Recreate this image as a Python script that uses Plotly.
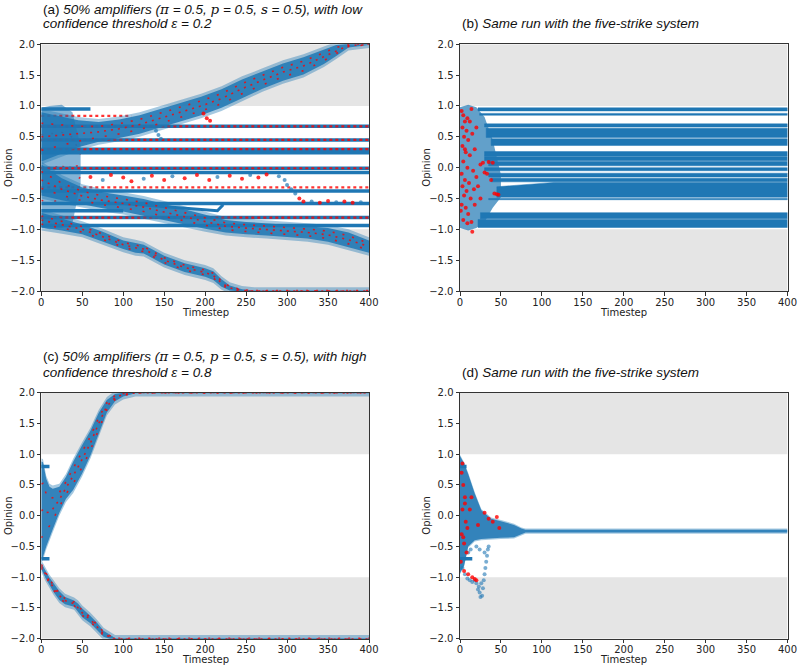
import numpy as np
import plotly.graph_objects as go

# ---------------- data ----------------
timestep_ticks = [0, 50, 100, 150, 200, 250, 300, 350, 400]
opinion_ticks = [-2.0, -1.5, -1.0, -0.5, 0.0, 0.5, 1.0, 1.5, 2.0]

# (a) drifting opinion clusters: timestep knots, cluster centre, half width
a_up_t = [0, 20, 45, 70, 95, 120, 145, 170, 195, 220, 245, 270, 295, 320, 345, 360, 375, 400]
a_up_c = [0.5, 0.52, 0.55, 0.58, 0.63, 0.7, 0.8, 0.9, 1.0, 1.12, 1.28, 1.42, 1.55, 1.65, 1.8, 1.9, 1.98, 2.0]
a_up_hw = [0.4, 0.32, 0.22, 0.16, 0.15, 0.15, 0.15, 0.15, 0.15, 0.15, 0.15, 0.14, 0.14, 0.14, 0.12, 0.09, 0.03, 0.01]

a_mid_t = [0, 25, 50, 75, 100, 125, 150, 175, 200, 225, 250, 275, 300, 325, 350, 375, 400]
a_mid_c = [-0.2, -0.35, -0.46, -0.53, -0.58, -0.64, -0.72, -0.8, -0.88, -0.95, -0.98, -1.0, -1.02, -1.05, -1.09, -1.17, -1.28]
a_mid_hw = [0.25, 0.18, 0.14, 0.13, 0.13, 0.13, 0.13, 0.12, 0.11, 0.1, 0.1, 0.1, 0.1, 0.1, 0.11, 0.12, 0.1]

a_low_t = [0, 25, 50, 75, 100, 115, 125, 150, 175, 200, 210, 220, 230, 245, 260, 400]
a_low_c = [-0.85, -0.92, -1.0, -1.12, -1.25, -1.3, -1.32, -1.5, -1.62, -1.7, -1.75, -1.87, -1.95, -1.99, -2.0, -2.0]
a_low_hw = [0.12, 0.1, 0.08, 0.08, 0.07, 0.08, 0.07, 0.07, 0.07, 0.07, 0.07, 0.06, 0.04, 0.02, 0.01, 0.01]

a_early_t = [0, 10, 25, 38, 48]
a_early_c = [0.0, 0.0, 0.02, 0.0, 0.05]
a_early_hw = [0.97, 1.0, 1.0, 0.9, 0.3]

# (a) agents frozen at a fixed opinion: level, first and last timestep, kind
a_line_level = [0.95, 0.84, 0.67, 0.45, 0.30, 0.24, -0.01, -0.08, -0.32, -0.38, -0.58, -0.70, -0.81, -0.94]
a_line_start = [0, 0, 0, 0, 0, 0, 0, 0, 0, 0, 0, 0, 0, 0]
a_line_end = [60, 110, 400, 400, 400, 400, 400, 400, 400, 400, 400, 100, 400, 400]
a_line_kind = ['blue', 'red', 'both', 'both', 'both', 'blue', 'both', 'blue', 'red', 'blue', 'blue', 'blue', 'both', 'blue']

a_thin_t = [100, 150, 200, 215, 222]
a_thin_v = [-0.58, -0.63, -0.68, -0.7, -0.6]

a_loose_t = [60, 75, 85, 100, 110, 125, 135, 150, 160, 175, 190, 205, 215, 230, 245, 255, 265, 275, 290,
             297, 300, 305, 310, 315, 320, 330, 340, 350, 360, 370, 380, 390, 140, 143, 146, 198, 202, 206]
a_loose_v = [-0.15, -0.2, -0.12, -0.16, -0.22, -0.18, -0.13, -0.2, -0.14, -0.17, -0.12, -0.2, -0.15, -0.13,
             -0.18, -0.12, -0.16, -0.11, -0.14, -0.2, -0.28, -0.35, -0.42, -0.5, -0.55, -0.55, -0.57, -0.54,
             -0.56, -0.55, -0.57, -0.56, 0.6, 0.53, 0.47, 0.88, 0.8, 0.76]
a_loose_col = ['r', 'b', 'r', 'r', 'r', 'b', 'r', 'r', 'b', 'r', 'r', 'r', 'b', 'r', 'r', 'b', 'r', 'r', 'b',
               'b', 'b', 'b', 'b', 'r', 'r', 'b', 'r', 'r', 'b', 'r', 'r', 'b', 'b', 'b', 'b', 'r', 'r', 'r']

# (b) five-strike bands: lower / upper opinion, upper edge at start, start and full-width timestep
b_band_lo = [0.92, 0.85, 0.66, 0.49, 0.36, 0.19, 0.11, 0.03, -0.05, -0.15, -0.23, -0.48, -0.52, -0.83, -0.97]
b_band_hi = [0.97, 0.88, 0.71, 0.64, 0.47, 0.26, 0.18, 0.10, 0.0, -0.09, -0.17, -0.24, -0.50, -0.73, -0.84]
b_band_hi0 = [0.97, 0.88, 0.71, 0.64, 0.47, 0.26, 0.18, 0.10, 0.0, -0.09, -0.17, -0.31, -0.50, -0.73, -0.84]
b_band_t0 = [22, 24, 30, 32, 38, 30, 30, 35, 30, 35, 38, 45, 35, 25, 22]
b_band_t1 = [22, 24, 30, 32, 38, 30, 30, 35, 30, 35, 38, 115, 35, 25, 22]

b_early_t = [0, 10, 20, 30, 40, 50]
b_early_c = [0.0, 0.0, 0.0, -0.03, -0.1, -0.3]
b_early_hw = [0.98, 1.02, 0.98, 0.85, 0.55, 0.18]

b_red_t = [2, 4, 6, 3, 8, 5, 10, 3, 7, 12, 4, 9, 2, 6, 11, 3, 8, 5, 13, 2, 7, 10, 4, 9, 14, 12, 15, 18,
           16, 20, 22, 25, 20, 14, 28, 35, 40, 30, 38, 42, 45, 47, 33, 18, 15, 25, 6, 1, 9, 17]
b_red_v = [0.92, 0.85, 0.75, 0.65, 0.6, 0.5, 0.45, 0.35, 0.25, 0.2, 0.1, 0.0, -0.1, -0.2, -0.25, -0.3,
           -0.38, -0.45, -0.5, -0.6, -0.65, -0.75, -0.85, -0.9, -0.88, 0.75, 0.55, 0.3, -0.05, -0.15, -0.3,
           -0.5, 0.65, 0.95, 0.08, 0.09, 0.08, -0.08, -0.2, -0.42, -0.43, -0.44, -0.1, -0.6, -1.04, 0.05,
           0.3, -0.7, 0.8, -0.35]

# (c) high confidence threshold
c_up_t = [0, 2, 6, 10, 14, 22, 30, 39, 50, 60, 70, 80, 90, 100, 115, 400]
c_up_c = [0.08, 0.1, 0.05, 0.06, 0.11, 0.26, 0.45, 0.65, 0.92, 1.18, 1.5, 1.78, 1.92, 1.97, 2.0, 2.0]
c_up_hw = [0.8, 0.77, 0.55, 0.41, 0.33, 0.21, 0.18, 0.23, 0.23, 0.2, 0.17, 0.1, 0.06, 0.03, 0.01, 0.01]

c_low_t = [0, 5, 10, 15, 22, 29, 40, 45, 50, 60, 68, 76, 85, 90, 400]
c_low_c = [-0.82, -0.95, -1.07, -1.17, -1.3, -1.38, -1.43, -1.5, -1.58, -1.69, -1.8, -1.92, -1.98, -2.0, -2.0]
c_low_hw = [0.05, 0.06, 0.06, 0.07, 0.07, 0.06, 0.05, 0.07, 0.07, 0.06, 0.06, 0.05, 0.03, 0.01, 0.01]

c_line_level = [0.8, -0.7]
c_line_start = [0, 0]
c_line_end = [10, 10]

# (d) five-strike with high threshold
d_t = [0, 5, 10, 18, 26, 38, 50, 66, 75, 80, 400]
d_c = [0.02, 0.02, 0.09, -0.02, -0.145, -0.21, -0.225, -0.25, -0.255, -0.25, -0.25]
d_hw = [0.95, 0.83, 0.59, 0.38, 0.235, 0.16, 0.135, 0.1, 0.045, 0.022, 0.022]

d_line_level = [0.8, -0.7]
d_line_start = [0, 0]
d_line_end = [8, 15]

d_blue_t = [3, 6, 9, 12, 15, 18, 20, 22, 24, 25, 27, 28, 29, 30, 31, 32, 33, 34, 35, 26, 23, 10, 13, 20, 24, 30]
d_blue_v = [-0.85, -0.95, -1.02, -1.05, -1.08, -1.05, -1.1, -1.2, -1.25, -1.32, -1.3, -1.18, -1.05, -0.95,
            -0.85, -0.75, -0.65, -0.55, -0.5, -1.1, -1.15, -0.6, -0.55, -0.5, -0.55, -0.6]
d_red_t = [5, 10, 15, 18, 20, 35, 45, 40, 48, 30, 12, 2, 4, 6, 3, 7, 2, 5, 8, 1, 3, 6, 9, 4, 14, 22]
d_red_v = [-0.9, -0.95, -1.0, -1.03, -1.05, -0.05, -0.02, -0.1, -0.2, 0.05, 0.1, 0.7, 0.5, 0.3, 0.1,
           -0.1, -0.3, -0.45, -0.6, -0.75, 0.85, 0.2, -0.2, -0.35, 0.3, -0.15]

# ---------------- drawing ----------------
BLUE = '#1f77b4'
RED = 'rgba(255,0,0,0.8)'
fig = go.Figure()


def band_polygon(t, c, hw, extra=0.0):
    t = np.asarray(t, float)
    c = np.asarray(c, float)
    hw = np.asarray(hw, float) + extra
    return np.concatenate([t, t[::-1]]), np.concatenate([c + hw, (c - hw)[::-1]])


def add_cluster(ax, t, c, hw, red=True, core_alpha=0.85, halo=0.05):
    if halo > 0:
        xs, ys = band_polygon(t, c, hw, halo)
        fig.add_trace(go.Scatter(x=xs, y=ys, fill='toself', mode='lines', line=dict(width=0),
                                 fillcolor='rgba(31,119,180,0.4)', xaxis='x' + ax, yaxis='y' + ax,
                                 hoverinfo='skip', showlegend=False))
    xs, ys = band_polygon(t, c, hw)
    fig.add_trace(go.Scatter(x=xs, y=ys, fill='toself', mode='lines', line=dict(width=0),
                             fillcolor='rgba(31,119,180,%.2f)' % core_alpha, xaxis='x' + ax, yaxis='y' + ax,
                             hoverinfo='skip', showlegend=False))
    if red:
        cc = np.asarray(c, float)
        hh = np.asarray(hw, float)
        for off, dash in ((0.0, '2px,5px'), (0.55, '2px,8px'), (-0.55, '2px,11px')):
            fig.add_trace(go.Scatter(x=t, y=cc + off * hh, mode='lines',
                                     line=dict(color=RED, width=1.6, dash=dash),
                                     xaxis='x' + ax, yaxis='y' + ax, hoverinfo='skip', showlegend=False))


def add_hline(ax, level, start, end, kind):
    if kind in ('blue', 'both'):
        fig.add_trace(go.Scatter(x=[start, end], y=[level, level], mode='lines',
                                 line=dict(color=BLUE, width=3.5), xaxis='x' + ax, yaxis='y' + ax,
                                 hoverinfo='skip', showlegend=False))
    if kind in ('red', 'both'):
        fig.add_trace(go.Scatter(x=[start, end], y=[level, level], mode='lines',
                                 line=dict(color=RED, width=2.2, dash='3px,3px'), xaxis='x' + ax,
                                 yaxis='y' + ax, hoverinfo='skip', showlegend=False))


def add_points(ax, t, v, color, size=4):
    fig.add_trace(go.Scatter(x=t, y=v, mode='markers',
                             marker=dict(color=color, size=size, line=dict(width=0)),
                             xaxis='x' + ax, yaxis='y' + ax, hoverinfo='skip', showlegend=False))


# panel (a)
add_cluster('', a_early_t, a_early_c, a_early_hw, core_alpha=0.55, halo=0.0)
for lv, s, e, k in zip(a_line_level, a_line_start, a_line_end, a_line_kind):
    add_hline('', lv, s, e, k)
fig.add_trace(go.Scatter(x=a_thin_t, y=a_thin_v, mode='lines', line=dict(color=BLUE, width=3),
                         xaxis='x', yaxis='y', hoverinfo='skip', showlegend=False))
add_cluster('', a_up_t, a_up_c, a_up_hw)
add_cluster('', a_mid_t, a_mid_c, a_mid_hw)
add_cluster('', a_low_t, a_low_c, a_low_hw)
add_points('', a_loose_t, a_loose_v,
           ['rgba(255,0,0,0.8)' if col == 'r' else 'rgba(31,119,180,0.7)' for col in a_loose_col])

# panel (b)
add_cluster('2', b_early_t, b_early_c, b_early_hw, red=False, core_alpha=0.7, halo=0.0)
for lo, hi, hi0, t0, t1 in zip(b_band_lo, b_band_hi, b_band_hi0, b_band_t0, b_band_t1):
    fig.add_trace(go.Scatter(x=[t0, t0, t1, 400, 400, t0], y=[lo, hi0, hi, hi, lo, lo], fill='toself',
                             mode='lines', line=dict(width=0.5, color=BLUE), fillcolor=BLUE,
                             xaxis='x2', yaxis='y2', hoverinfo='skip', showlegend=False))
add_points('2', b_red_t, b_red_v, RED, 4)

# panel (c)
for lv, s, e in zip(c_line_level, c_line_start, c_line_end):
    add_hline('3', lv, s, e, 'blue')
add_cluster('3', c_up_t, c_up_c, c_up_hw)
add_cluster('3', c_low_t, c_low_c, c_low_hw)

# panel (d)
for lv, s, e in zip(d_line_level, d_line_start, d_line_end):
    add_hline('4', lv, s, e, 'blue')
add_cluster('4', d_t, d_c, d_hw, red=False, halo=0.02)
add_points('4', d_blue_t, d_blue_v, 'rgba(31,119,180,0.6)', 4)
add_points('4', d_red_t, d_red_v, RED, 4)

# ---------------- layout ----------------
W, H = 798, 668
x_dom = {'': (41.3, 369.0), '2': (460.0, 787.5), '3': (41.3, 369.0), '4': (460.0, 787.5)}
y_dom = {'': (44.3, 291.0), '2': (44.3, 291.0), '3': (392.7, 638.7), '4': (392.7, 638.7)}

axis_common = dict(showline=True, mirror=True, linecolor='#333', linewidth=1, ticks='outside',
                   ticklen=3.5, tickcolor='#333', showgrid=False, zeroline=False, automargin=False,
                   tickfont=dict(family='DejaVu Sans', size=10, color='#222'))
layout = dict(width=W, height=H, margin=dict(l=0, r=0, t=0, b=0), paper_bgcolor='white',
              plot_bgcolor='white', showlegend=False)
shapes = []
annotations = []
LF = dict(family='DejaVu Sans', size=10, color='#222')
for ax in ['', '2', '3', '4']:
    xd = x_dom[ax]
    yd = y_dom[ax]
    layout['xaxis' + ax] = dict(domain=[xd[0] / W, xd[1] / W], range=[0, 400], tickvals=timestep_ticks,
                                anchor='y' + ax, ticklabelstandoff=-2, **axis_common)
    layout['yaxis' + ax] = dict(domain=[1 - yd[1] / H, 1 - yd[0] / H], range=[-2, 2], tickvals=opinion_ticks,
                                tickformat='.1f', anchor='x' + ax, **axis_common)
    for y0, y1 in ((1, 2), (-2, -1)):
        shapes.append(dict(type='rect', xref='x' + ax, yref='y' + ax, x0=0, x1=400, y0=y0, y1=y1,
                           fillcolor='#e5e5e5', line=dict(width=0), layer='below'))
    # axis titles
    annotations.append(dict(x=(xd[0] + xd[1]) / 2 / W, y=1 - (yd[1] + 21) / H, xref='paper', yref='paper',
                            xanchor='center', yanchor='middle', text='Timestep', showarrow=False, font=LF))
    annotations.append(dict(x=(xd[0] - 33) / W, y=1 - (yd[0] + yd[1]) / 2 / H, xref='paper', yref='paper',
                            xanchor='center', yanchor='middle', text='Opinion', textangle=-90,
                            showarrow=False, font=LF))
layout['shapes'] = shapes

TF = dict(family='Liberation Sans, Arial, sans-serif', size=13.5, color='#111')
sym = lambda s: '<span style="font-family:DejaVu Serif">' + s + '</span>'
titles = [
    (41.3, 9.5, '(a) <i>50% amplifiers (' + sym('π') + ' = 0.5, ' + sym('p') + ' = 0.5, ' + sym('s') +
     ' = 0.5), with low</i>'),
    (41.3, 24, '<i>confidence threshold ε = 0.2</i>'),
    (460.0, 24, '(b) <i>Same run with the five-strike system</i>'),
    (41.3, 356, '(c) <i>50% amplifiers (' + sym('π') + ' = 0.5, ' + sym('p') + ' = 0.5, ' + sym('s') +
     ' = 0.5), with high</i>'),
    (41.3, 372.5, '<i>confidence threshold ε = 0.8</i>'),
    (460.0, 372.5, '(d) <i>Same run with the five-strike system</i>'),
]
annotations += [dict(x=x / W, y=1 - y / H, xref='paper', yref='paper', xanchor='left',
                     yanchor='middle', text=t, showarrow=False, font=TF) for x, y, t in titles]
layout['annotations'] = annotations

fig.update_layout(**layout)
fig.write_html('out.html', config={'displayModeBar': False},
               post_script="document.body.style.margin='0px';document.body.style.padding='0px';")
